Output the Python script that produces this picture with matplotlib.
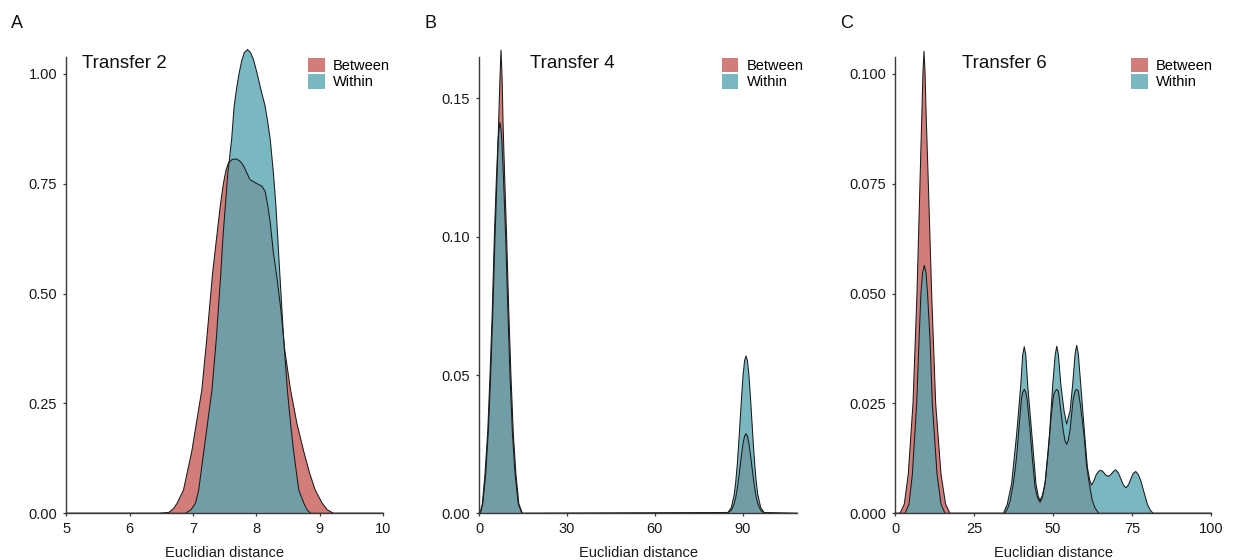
import matplotlib
matplotlib.use("Agg")
import matplotlib.pyplot as plt
from matplotlib.patches import Patch

plt.rcParams["font.family"] = ["Liberation Sans", "DejaVu Sans"]

SERIES = ["Between", "Within"]
RED = "#C75D59"
TEAL = "#59A6B2"
ALPHA = 0.8

# Transfer 2 densities
t2_between_x = [5.0, 6.45, 6.62, 6.70, 6.75, 6.85, 6.98, 7.14, 7.22, 7.31, 7.37, 7.43,
                7.48, 7.52, 7.56, 7.62, 7.69, 7.75, 7.80, 7.90, 8.01, 8.09, 8.14, 8.18, 8.22,
                8.27, 8.33, 8.39, 8.45, 8.54, 8.64, 8.75, 8.84, 8.93, 9.04, 9.12, 9.22, 10.0]
t2_between_y = [0.0, 0.0, 0.002, 0.012, 0.023, 0.053, 0.14, 0.281, 0.40, 0.547, 0.623, 0.698,
                0.750, 0.780, 0.797, 0.805, 0.806, 0.800, 0.790, 0.759, 0.750, 0.744, 0.732,
                0.700, 0.661, 0.592, 0.531, 0.46, 0.37, 0.281, 0.205, 0.14, 0.092, 0.053, 0.023,
                0.008, 0.0, 0.0]
t2_within_x = [5.0, 6.88, 6.97, 7.04, 7.09, 7.17, 7.30, 7.37, 7.44, 7.47, 7.51, 7.55, 7.61,
               7.65, 7.69, 7.73, 7.77, 7.81, 7.86, 7.91, 7.96, 8.01, 8.07, 8.14, 8.18, 8.22,
               8.27, 8.31, 8.34, 8.37, 8.43, 8.49, 8.54, 8.59, 8.67, 8.75, 8.80, 8.86, 10.0]
t2_within_y = [0.0, 0.0, 0.008, 0.023, 0.053, 0.14, 0.281, 0.40, 0.547, 0.623, 0.698, 0.774,
               0.85, 0.926, 0.968, 1.002, 1.030, 1.048, 1.055, 1.048, 1.030, 1.002, 0.965,
               0.926, 0.89, 0.85, 0.774, 0.698, 0.623, 0.547, 0.40, 0.281, 0.205, 0.14, 0.053,
               0.023, 0.008, 0.0, 0.0]

# Transfer 4 densities
t4_between_x = [0.0, 0.45, 1.3, 2.28, 3.2, 3.98, 4.7, 5.46, 6.1, 6.7, 7.0, 7.2, 7.5, 7.8,
                8.0, 8.2, 8.8, 9.44, 10.1, 10.9, 11.7, 12.6, 13.6, 14.8, 85.1, 86.1, 87.1,
                87.6, 88.1, 88.6, 89.1, 89.6, 90.1, 90.6, 91.1, 91.6, 92.1, 92.6, 93.1, 93.6,
                94.1, 94.6, 95.1, 96.1, 97.1, 108.6]
t4_between_y = [0.0, 0.0, 0.0034, 0.0142, 0.030, 0.0498, 0.072, 0.0998, 0.12, 0.1413, 0.152,
                0.1588, 0.1675, 0.1600, 0.152, 0.1413, 0.12, 0.0998, 0.075, 0.0498, 0.029,
                0.0142, 0.0034, 0.0, 0.0003, 0.0011, 0.0035, 0.0058, 0.0088, 0.0127, 0.0170,
                0.0214, 0.0253, 0.0279, 0.0288, 0.0279, 0.0253, 0.0214, 0.0170, 0.0127, 0.0088,
                0.0058, 0.0035, 0.0011, 0.0003, 0.0]
t4_within_x = [0.0, 0.34, 1.14, 2.05, 3.0, 3.75, 4.5, 5.23, 5.9, 6.5, 6.85, 7.17, 7.5, 7.8,
               8.4, 9.1, 9.8, 10.58, 11.4, 12.3, 13.4, 14.6, 84.5, 85.1, 86.1, 87.1, 87.6,
               88.1, 88.6, 89.1, 89.6, 90.1, 90.6, 91.1, 91.6, 92.1, 92.6, 93.1, 93.6, 94.1,
               94.6, 95.1, 96.1, 97.1, 97.7, 108.6]
t4_within_y = [0.0, 0.0, 0.0034, 0.0142, 0.030, 0.0498, 0.072, 0.0998, 0.12, 0.135, 0.139,
               0.1413, 0.139, 0.135, 0.12, 0.0998, 0.075, 0.0498, 0.029, 0.0142, 0.0034, 0.0,
               0.0, 0.0005, 0.0021, 0.0069, 0.0114, 0.0174, 0.0250, 0.0336, 0.0423, 0.0499,
               0.0551, 0.0569, 0.0551, 0.0499, 0.0423, 0.0336, 0.0250, 0.0174, 0.0114, 0.0069,
               0.0021, 0.0005, 0.0, 0.0]

# Transfer 6 densities
t6_between_x = [0.0, 1.58, 2.95, 4.2, 5.7, 6.96, 7.9, 8.54, 8.85, 9.18, 9.5, 9.8, 10.55, 11.6,
                12.87, 14.56, 16.0, 17.4, 34.8, 35.7, 36.5, 37.5, 38.5, 39.3, 40.0, 40.4, 40.9,
                41.4, 41.8, 42.6, 43.4, 44.3, 45.1, 45.9, 46.7, 47.5, 48.5, 49.4, 50.2, 50.7,
                51.2, 51.7, 52.2, 53.2, 53.8, 54.3, 54.8, 55.4, 56.4, 57.0, 57.5, 58.0, 58.6,
                59.8, 60.6, 61.5, 62.4, 63.3, 64.5, 100.0]
t6_between_y = [0.0, 0.0, 0.0021, 0.0089, 0.025, 0.05, 0.075, 0.092, 0.1005, 0.1051, 0.1005,
                0.092, 0.075, 0.05, 0.025, 0.0089, 0.0021, 0.0, 0.0, 0.0012, 0.003, 0.007,
                0.013, 0.020, 0.026, 0.0275, 0.0282, 0.0275, 0.026, 0.020, 0.013, 0.006, 0.0035,
                0.0025, 0.0038, 0.007, 0.014, 0.022, 0.027, 0.0278, 0.0282, 0.0278, 0.025,
                0.019, 0.0165, 0.0157, 0.0165, 0.019, 0.026, 0.0278, 0.0282, 0.0278, 0.025,
                0.018, 0.011, 0.0067, 0.003, 0.0012, 0.0, 0.0]
t6_within_x = [0.0, 3.2, 4.43, 5.5, 6.86, 7.6, 8.2, 8.75, 9.28, 9.8, 10.3, 11.1, 11.8, 13.3,
               14.56, 15.8, 34.3, 35.5, 36.9, 38.5, 39.8, 40.4, 40.9, 41.4, 42.0, 43.3, 44.6,
               45.3, 45.9, 46.6, 47.5, 48.9, 49.9, 50.7, 51.2, 51.7, 52.5, 53.5, 54.3, 55.4,
               56.2, 57.0, 57.5, 58.0, 58.8, 60.0, 60.9, 61.6, 62.2, 63.0, 63.7, 64.5, 65.2,
               65.9, 66.7, 67.5, 68.3, 69.1, 69.8, 70.6, 71.5, 72.3, 73.1, 73.9, 74.6, 75.4,
               76.2, 77.0, 77.8, 78.6, 79.3, 80.0, 80.8, 81.7, 100.0]
t6_within_y = [0.0, 0.0, 0.0021, 0.0089, 0.025, 0.0392, 0.05, 0.0548, 0.0564, 0.0548, 0.05,
               0.0392, 0.025, 0.0089, 0.0021, 0.0, 0.0, 0.002, 0.0067, 0.018, 0.0291, 0.0360,
               0.0379, 0.0360, 0.0291, 0.018, 0.0067, 0.0040, 0.0029, 0.0040, 0.0067, 0.018,
               0.0291, 0.0361, 0.0380, 0.0361, 0.0291, 0.0233, 0.0203, 0.0233, 0.0291, 0.0363,
               0.0382, 0.0363, 0.0291, 0.018, 0.0104, 0.0076, 0.0064, 0.0075, 0.0088, 0.0096,
               0.0098, 0.0094, 0.0087, 0.0084, 0.0088, 0.0095, 0.0099, 0.0093, 0.0078, 0.0064,
               0.0058, 0.0065, 0.0078, 0.0091, 0.0095, 0.0088, 0.0074, 0.0053, 0.0035, 0.0018,
               0.0007, 0.0, 0.0]

panels = [
    dict(letter="A", title="Transfer 2", title_x=0.05,
         between=(t2_between_x, t2_between_y), within=(t2_within_x, t2_within_y),
         xlim=(5, 10), ylim=1.038, xticks=[5, 6, 7, 8, 9, 10],
         yticks=[0.0, 0.25, 0.50, 0.75, 1.00], yfmt="{:.2f}",
         left=66.3, right=383.0, legend_x=0.763),
    dict(letter="B", title="Transfer 4", title_x=0.16,
         between=(t4_between_x, t4_between_y), within=(t4_within_x, t4_within_y),
         xlim=(0, 108.6), ylim=0.165, xticks=[0, 30, 60, 90],
         yticks=[0.0, 0.05, 0.10, 0.15], yfmt="{:.2f}",
         left=479.0, right=797.3, legend_x=0.7625),
    dict(letter="C", title="Transfer 6", title_x=0.213,
         between=(t6_between_x, t6_between_y), within=(t6_within_x, t6_within_y),
         xlim=(0, 100), ylim=0.1038, xticks=[0, 25, 50, 75, 100],
         yticks=[0.0, 0.025, 0.050, 0.075, 0.100], yfmt="{:.3f}",
         left=895.0, right=1211.0, legend_x=0.747),
]

W, H = 1235, 560
AX_BOTTOM, AX_TOP = 513.3, 57.0
SPINE = "#3a3a3a"

fig = plt.figure(figsize=(W / 100, H / 100), dpi=100)

for p in panels:
    ax = fig.add_axes([p["left"] / W, (H - AX_BOTTOM) / H,
                       (p["right"] - p["left"]) / W, (AX_BOTTOM - AX_TOP) / H])
    for name, color in zip(SERIES, [RED, TEAL]):
        xs, ys = p[name.lower()]
        ax.fill_between(xs, ys, 0, facecolor=color, alpha=ALPHA, linewidth=0, clip_on=False)
        ax.plot(xs, ys, color="#1a1a1a", lw=0.75, clip_on=False)

    ax.set_xlim(*p["xlim"])
    ax.set_ylim(0, p["ylim"])
    ax.set_xticks(p["xticks"])
    ax.set_xticklabels([str(t) for t in p["xticks"]])
    ax.set_yticks(p["yticks"])
    ax.set_yticklabels([p["yfmt"].format(t) for t in p["yticks"]])
    for side in ("top", "right"):
        ax.spines[side].set_visible(False)
    for side in ("left", "bottom"):
        ax.spines[side].set_color(SPINE)
        ax.spines[side].set_linewidth(1.0)
    ax.tick_params(length=2.5, width=0.9, color=SPINE, labelsize=10.5,
                   labelcolor="#1a1a1a", pad=4)
    ax.set_xlabel("Euclidian distance", fontsize=10.5, color="#1a1a1a", labelpad=7)

    ax.text(p["title_x"], 0.985, p["title"], transform=ax.transAxes,
            fontsize=13.5, ha="left", va="center", color="#111111")

    handles = [Patch(facecolor=RED, alpha=ALPHA, edgecolor="none"),
               Patch(facecolor=TEAL, alpha=ALPHA, edgecolor="none")]
    ax.legend(handles, SERIES, loc="upper left", bbox_to_anchor=(p["legend_x"], 0.998),
              frameon=False, fontsize=10.5, borderpad=0, borderaxespad=0,
              handlelength=1.15, handleheight=1.15, handletextpad=0.55,
              labelspacing=0.08)

    fig.text((p["left"] - 55) / W, 1 - 23 / H, p["letter"], fontsize=13,
             ha="left", va="center", color="#111111")

fig.savefig("out.png", dpi=100)
